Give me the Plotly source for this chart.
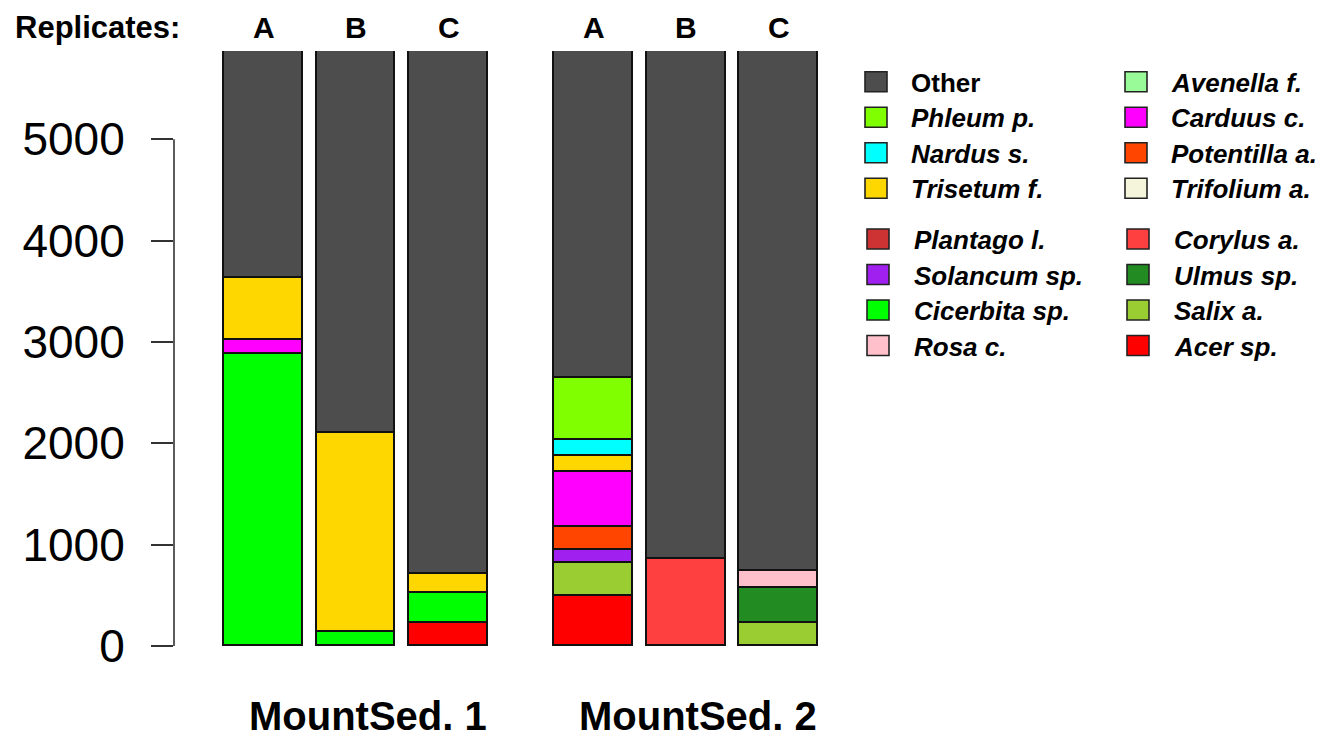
import plotly.graph_objects as go

# Replicate and site labels
replicates = ["A", "B", "C"]
sites = ["MountSed. 1", "MountSed. 2"]

# Taxa in stacking order (bottom of each bar first)
taxa = [
    "Acer sp.", "Salix a.", "Ulmus sp.", "Corylus a.",
    "Rosa c.", "Cicerbita sp.", "Solancum sp.", "Plantago l.",
    "Trifolium a.", "Potentilla a.", "Carduus c.", "Avenella f.",
    "Trisetum f.", "Nardus s.", "Phleum p.", "Other",
]

# Read counts per bar: MountSed.1 A, B, C then MountSed.2 A, B, C
acer       = [0, 0, 224, 493, 0, 0]
salix      = [0, 0, 0, 322, 0, 230]
ulmus      = [0, 0, 0, 0, 0, 345]
corylus    = [0, 0, 0, 0, 858, 0]
rosa       = [0, 0, 0, 0, 0, 168]
cicerbita  = [2877, 141, 302, 0, 0, 0]
solancum   = [0, 0, 0, 132, 0, 0]
plantago   = [0, 0, 0, 0, 0, 0]
trifolium  = [0, 0, 0, 0, 0, 0]
potentilla = [0, 0, 0, 230, 0, 0]
carduus    = [141, 0, 0, 542, 0, 0]
avenella   = [0, 0, 0, 0, 0, 0]
trisetum   = [608, 1957, 181, 158, 0, 0]
nardus     = [0, 0, 0, 151, 0, 0]
phleum     = [0, 0, 0, 612, 0, 0]
other      = [2244, 3772, 5163, 3230, 5012, 5127]

values = [acer, salix, ulmus, corylus, rosa, cicerbita, solancum, plantago,
          trifolium, potentilla, carduus, avenella, trisetum, nardus, phleum, other]

colors = [
    "#FF0000", "#9ACD32", "#228B22", "#FF4040",
    "#FFC0CB", "#00FF00", "#A020F0", "#CD3333",
    "#F5F5DC", "#FF4500", "#FF00FF", "#98FB98",
    "#FFD700", "#00FFFF", "#7FFF00", "#4D4D4D",
]

y_ticks = [0, 1000, 2000, 3000, 4000, 5000]

# Bar positions: three replicates per site, with a wider gap between sites
GROUP_GAP = 0.57
BAR_W = 0.85
x_pos = [g * (len(replicates) + GROUP_GAP) + r
         for g in range(len(sites)) for r in range(len(replicates))]

FONT = "Liberation Sans, Arial, sans-serif"
W, H = 1336, 737
ML, MR, MT, MB = 174, 506, 51, 91
PW, PH = W - ML - MR, H - MT - MB
X_RANGE = [-0.9676, 6.124]
Y_RANGE = [0, 5870]


def px_to_paper(px, py):
    return (px - ML) / PW, (H - MB - py) / PH


fig = go.Figure()
for name, vals, col in zip(taxa, values, colors):
    fig.add_trace(go.Bar(
        x=x_pos,
        y=[v if v else None for v in vals],
        width=BAR_W,
        name=name,
        marker=dict(color=col, line=dict(color="#111111", width=1.6)),
        showlegend=False,
    ))

annotations = []
shapes = []

# Header row: "Replicates:" and replicate letters above each bar
_, hy = px_to_paper(0, 28)
hx, _ = px_to_paper(13, 0)
annotations.append(dict(text="<b>Replicates:</b>", xref="paper", yref="paper",
                        x=hx, y=hy, xanchor="left", yanchor="middle",
                        showarrow=False, font=dict(size=31, family=FONT, color="black")))
for i, xp in enumerate(x_pos):
    annotations.append(dict(text="<b>%s</b>" % replicates[i % len(replicates)],
                            xref="x", yref="paper", x=xp, y=hy,
                            xanchor="center", yanchor="middle", showarrow=False,
                            font=dict(size=30, family=FONT, color="black")))

# Site labels under each group
_, sy = px_to_paper(0, 716)
for g, site in enumerate(sites):
    centre = g * (len(replicates) + GROUP_GAP) + 1.13
    annotations.append(dict(text="<b>%s</b>" % site, xref="x", yref="paper",
                            x=centre, y=sy, xanchor="center", yanchor="middle",
                            showarrow=False,
                            font=dict(size=40, family=FONT, color="black")))

# Y axis line spanning only the tick range
shapes.append(dict(type="line", xref="paper", yref="y", x0=0, x1=0,
                   y0=y_ticks[0], y1=y_ticks[-1],
                   line=dict(color="#333333", width=1.6)))

# Legend: two blocks of two columns, four entries each, top of stack first
legend_order = list(range(len(taxa)))[::-1]
for i, k in enumerate(legend_order):
    block, col, row = i // 8, (i % 8) // 4, i % 4
    cy = (81.7 if block == 0 else 239.0) + row * 35.5
    sx0 = (865 if col == 0 else 1125) + 2 * block
    tx = (909 if col == 0 else 1169) + 3 * block
    x0, y0 = px_to_paper(sx0, cy + 10)
    x1, y1 = px_to_paper(sx0 + 22, cy - 10)
    shapes.append(dict(type="rect", xref="paper", yref="paper",
                       x0=x0, x1=x1, y0=y0, y1=y1,
                       fillcolor=colors[k], line=dict(color="#222222", width=1.6)))
    label = taxa[k]
    label = "<b>%s</b>" % label if label == "Other" else "<b><i>%s</i></b>" % label
    lx, ly = px_to_paper(tx, cy + 1)
    annotations.append(dict(text=label, xref="paper", yref="paper", x=lx, y=ly,
                            xanchor="left", yanchor="middle", showarrow=False,
                            font=dict(size=26, family=FONT, color="black")))

fig.update_layout(
    width=W, height=H, autosize=False,
    margin=dict(l=ML, r=MR, t=MT, b=MB, pad=0),
    paper_bgcolor="white", plot_bgcolor="white",
    barmode="stack", bargap=0,
    xaxis=dict(range=X_RANGE, showticklabels=False, showgrid=False,
               zeroline=False, showline=False, ticks=""),
    yaxis=dict(range=Y_RANGE, tickvals=y_ticks, ticks="outside", ticklen=22,
               tickwidth=1.6, tickcolor="#333333", showgrid=False,
               zeroline=False, showline=False, ticklabelstandoff=17,
               tickfont=dict(size=46, family=FONT, color="black")),
    annotations=annotations,
    shapes=shapes,
)

fig.write_html("out.html")
